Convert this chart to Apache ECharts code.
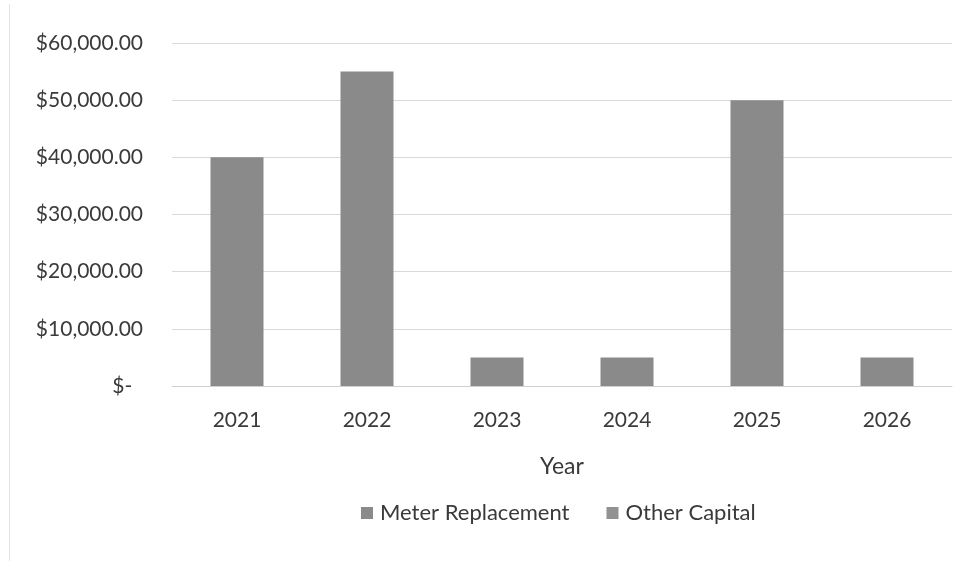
<!DOCTYPE html>
<html>
<head>
<meta charset="utf-8">
<script src="https://cdn.jsdelivr.net/npm/echarts@6/dist/echarts.min.js"></script>
<style>
  html, body { margin: 0; padding: 0; background: #ffffff; }
  #chart { width: 979px; height: 561px; }
</style>
</head>
<body>
<div id="chart"></div>
<script>
// Capital spending by year
const years = ['2021', '2022', '2023', '2024', '2025', '2026'];
const meterReplacement = [40000, 55000, 5000, 5000, 50000, 5000];
const otherCapital = [0, 0, 0, 0, 0, 0];
const yTicks = [0, 10000, 20000, 30000, 40000, 50000, 60000];

const FONT = 'Lato, "Open Sans", sans-serif';
const TEXT = '#3a3a3a';
const BAR = '#8a8a8a';

function money(v) {
  if (v === 0) return '$-  ';
  return '$' + v.toLocaleString('en-US', { minimumFractionDigits: 2, maximumFractionDigits: 2 });
}

const chart = echarts.init(document.getElementById('chart'), null, { renderer: 'canvas' });
chart.setOption({
  animation: false,
  backgroundColor: '#ffffff',
  grid: { left: 172, right: 27, top: 43, bottom: 175, containLabel: false },
  graphic: [{
    type: 'line',
    shape: { x1: 9.5, y1: 4, x2: 9.5, y2: 561 },
    style: { stroke: '#e2e2e2', lineWidth: 1 },
    silent: true
  }],
  legend: {
    top: 497,
    left: 356,
    itemWidth: 12,
    itemHeight: 12,
    itemGap: 37,
    icon: 'rect',
    textStyle: { fontFamily: FONT, fontSize: 22, color: TEXT, padding: [0, 0, 0, 2] },
    data: ['Meter Replacement', 'Other Capital']
  },
  xAxis: {
    type: 'category',
    data: years,
    name: 'Year',
    nameLocation: 'middle',
    nameGap: 69,
    nameTextStyle: { fontFamily: FONT, fontSize: 23, color: TEXT },
    axisLine: { lineStyle: { color: '#d0d0d0', width: 1 } },
    axisTick: { show: false },
    axisLabel: { fontFamily: FONT, fontSize: 21, color: TEXT, margin: 24 }
  },
  yAxis: {
    type: 'value',
    min: yTicks[0],
    max: yTicks[yTicks.length - 1],
    interval: 10000,
    axisLine: { show: false },
    axisTick: { show: false },
    splitLine: { lineStyle: { color: '#d9d9d9', width: 1 } },
    axisLabel: { fontFamily: FONT, fontSize: 21, color: TEXT, margin: 29, formatter: money }
  },
  series: [
    {
      name: 'Meter Replacement',
      type: 'bar',
      stack: 'total',
      data: meterReplacement,
      barWidth: 53,
      itemStyle: { color: BAR }
    },
    {
      name: 'Other Capital',
      type: 'bar',
      stack: 'total',
      data: otherCapital,
      barWidth: 53,
      itemStyle: { color: '#929292' }
    }
  ]
});
</script>
</body>
</html>
